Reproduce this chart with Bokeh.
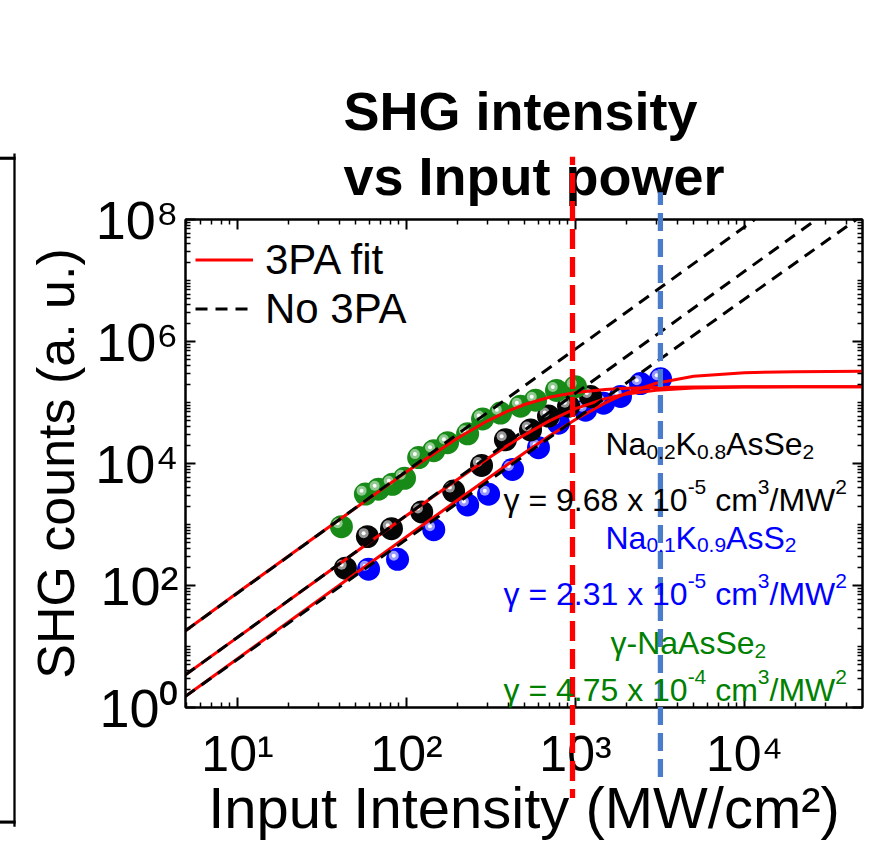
from bokeh.plotting import figure
from bokeh.models import (LogAxis, FixedTicker, Label, Title, Legend, LegendItem, Range1d)
from bokeh.embed import file_html
from bokeh.resources import INLINE

# ---------------- data ----------------
green_x = [41.2, 57.1, 68.2, 82.6, 97.3, 118, 145, 175, 230, 282, 360, 473, 580, 772, 1000]
green_y = [920, 3150, 3800, 4570, 5730, 12500, 16200, 21900, 30700, 53700, 67000, 87000, 109000, 158000, 182000]
black_x = [43.5, 58.7, 81.5, 123, 190, 278, 385, 542, 692, 910, 1228]
black_y = [192, 633, 853, 1610, 3530, 9290, 24500, 35500, 60000, 87000, 126000]
blue_x = [59.6, 88.5, 145, 230, 306, 424, 604, 793, 1146, 1465, 1846, 2425, 3184]
blue_y = [185, 269, 822, 2090, 3140, 7980, 18200, 45900, 74800, 97300, 126000, 204000, 245000]

fit_x = [4.9, 10, 30, 100, 200, 300, 400, 500, 700, 1000, 1500, 2000, 3000, 5000, 10000, 20000, 50000]
fit_green = [18, 76, 681, 7290, 26000, 49640, 72700, 92680, 121800, 146000, 163600, 170800, 176300, 179200, 180500, 181000, 181000]
fit_black = [3.4, 14.1, 127, 1400, 5470, 11860, 20070, 29520, 50070, 79400, 115600, 137600, 159100, 173000, 179600, 181350, 181800]
fit_blue = [1.51, 6.3, 56.7, 629, 2500, 5572, 9780, 15020, 28190, 52760, 98680, 141900, 206500, 269200, 308800, 320600, 324000]

no3pa_green_x = [4.9, 11500]
no3pa_green_y = [18, 1.0e8]
no3pa_black_x = [4.9, 26600]
no3pa_black_y = [3.4, 1.0e8]
no3pa_blue_x = [4.9, 46000]
no3pa_blue_y = [1.51, 1.0e8]

red_marker_x = 960
blue_marker_x = 3180

x_major = [10, 100, 1000, 10000]
x_labels = {10: "10\u00b9", 100: "10\u00b2", 1000: "10\u00b3", 10000: "10\u2074"}
y_major = [1, 100, 1e4, 1e6, 1e8]
y_labels = {1: "10\u2070", 100: "10\u00b2", 1e4: "10\u2074", 1e6: "10\u2076", 1e8: "10\u2078"}
y_odd = [10, 1e3, 1e5, 1e7]

# ---------------- layout helpers (reference pixel -> data) ----------------
def dx(X):
    return 10 ** (1 + (X - 237) / 169.0)

def dy(Y):
    return 10 ** ((713 - Y) / 61.75)

x_minor = [k * 10 ** d for d in range(0, 5) for k in range(2, 10) if 4.9 < k * 10 ** d < 50000]
y_minor = [k * 10 ** d for d in range(0, 8) for k in range(2, 10)]

FONT = "Liberation Sans"

p = figure(width=869, height=842, x_axis_type="log", y_axis_type="log",
           x_range=Range1d(dx(185), dx(862)), y_range=Range1d(1, 1e8),
           output_backend="svg", toolbar_location=None,
           min_border_left=185, min_border_right=7, min_border_top=219, min_border_bottom=129)
p.grid.visible = False
p.outline_line_color = "black"
p.outline_line_width = 2
p.background_fill_color = "white"
p.border_fill_color = "white"

def style_axis(ax, ticks, minors):
    ax.ticker = FixedTicker(ticks=ticks, minor_ticks=minors)
    ax.major_tick_in = 10
    ax.major_tick_out = 0
    ax.minor_tick_in = 5
    ax.minor_tick_out = 0
    ax.axis_line_width = 2
    ax.major_tick_line_width = 2
    ax.minor_tick_line_width = 1.5

def hide_labels(ax):
    ax.major_label_text_font_size = "1px"
    ax.major_label_text_alpha = 0
    ax.major_label_standoff = 0

xa = p.xaxis[0]
ya = p.yaxis[0]
style_axis(xa, x_major, x_minor)
style_axis(ya, y_major, y_minor + y_odd)
xa.major_label_overrides = x_labels
ya.major_label_overrides = y_labels
for ax in (xa, ya):
    ax.major_label_text_font = FONT
    ax.major_label_text_color = "black"
    ax.axis_label_text_font = FONT
    ax.axis_label_text_font_style = "normal"
    ax.axis_label_text_color = "black"
xa.major_label_text_font_size = "50px"
ya.major_label_text_font_size = "54px"
xa.major_label_standoff = 18
ya.major_label_standoff = 7

xa.axis_label = "Input Intensity (MW/cm\u00b2)"
xa.axis_label_text_font_size = "58px"
xa.axis_label_standoff = -10
ya.axis_label = "SHG counts (a. u.)"
ya.axis_label_text_font_size = "52px"
ya.axis_label_standoff = 7

top_ax = LogAxis()
style_axis(top_ax, x_major, x_minor)
hide_labels(top_ax)
p.add_layout(top_ax, "above")
right_ax = LogAxis()
style_axis(right_ax, y_major, y_minor + y_odd)
hide_labels(right_ax)
p.add_layout(right_ax, "right")

# ---------------- title ----------------
p.add_layout(Title(text="vs Input power", align="left", offset=158, standoff=28,
                   text_font=FONT, text_font_size="54px", text_font_style="bold",
                   text_color="black"), "above")
p.add_layout(Title(text="SHG intensity", align="left", offset=158, standoff=-22,
                   text_font=FONT, text_font_size="54px", text_font_style="bold",
                   text_color="black"), "above")

# ---------------- data marks ----------------
def balls(xs, ys, base, mid):
    p.scatter(xs, ys, size=23, fill_color=base, line_color=None)
    hx = [v * 0.95 for v in xs]
    hy = [v * 1.14 for v in ys]
    p.scatter(hx, hy, size=10, fill_color=mid, line_color=None, fill_alpha=0.9)
    p.scatter(hx, hy, size=4, fill_color="white", line_color=None)

balls(blue_x, blue_y, "#0000ff", "#a8a8ff")
balls(black_x, black_y, "#050505", "#a8a8a8")
balls(green_x, green_y, "#178a17", "#9ccf9c")

r_fit = p.line(fit_x, fit_green, line_color="#ff0000", line_width=3)
p.line(fit_x, fit_black, line_color="#ff0000", line_width=3)
p.line(fit_x, fit_blue, line_color="#ff0000", line_width=3)

r_dash = p.line(no3pa_green_x, no3pa_green_y, line_color="black", line_width=3, line_dash="12 8")
p.line(no3pa_black_x, no3pa_black_y, line_color="black", line_width=3, line_dash="12 8")
p.line(no3pa_blue_x, no3pa_blue_y, line_color="black", line_width=3, line_dash="12 8")

legend = Legend(items=[LegendItem(label="3PA fit", renderers=[r_fit]),
                       LegendItem(label="No 3PA", renderers=[r_dash])],
                location=(10, 374), padding=0, margin=0, spacing=0,
                glyph_width=58, glyph_height=49, label_height=49,
                label_standoff=12, label_text_font=FONT, label_text_font_size="42px",
                label_text_color="black",
                border_line_color=None, background_fill_alpha=0)
p.add_layout(legend)

# ---------------- text annotations ----------------
WID = {"N": .722, "a": .556, "K": .667, "A": .667, "s": .5, "S": .667, "e": .556,
       ".": .278, " ": .278, "=": .584, "x": .5, "c": .5, "m": .833, "/": .278,
       "M": .833, "W": .944, "-": .333, "\u03b3": .5}

def lab(X, Y, text, color="black", size=32):
    p.add_layout(Label(x=dx(X), y=dy(Y), text=text, text_color=color, text_font=FONT,
                       text_font_size=f"{size}px", text_align="left",
                       text_baseline="alphabetic"))

def rich(X, Y, parts, color):
    for text, kind in parts:
        size = 32 if kind == "n" else 21
        shift = 0 if kind == "n" else (8 if kind == "sub" else -13)
        lead = len(text) - len(text.lstrip(" "))
        X += lead * WID[" "] * size
        body = text.strip(" ")
        lab(X, Y + shift, body, color, size)
        X += sum(WID.get(ch, .556) for ch in body) * size

rich(605, 446, [("Na", "n"), ("0.2", "sub"), ("K", "n"), ("0.8", "sub"), ("AsSe", "n"), ("2", "sub")], "black")
rich(503, 503, [("\u03b3 = 9.68 x 10", "n"), ("-5", "sup"), (" cm", "n"), ("3", "sup"), ("/MW", "n"), ("2", "sup")], "black")
rich(605, 541, [("Na", "n"), ("0.1", "sub"), ("K", "n"), ("0.9", "sub"), ("AsS", "n"), ("2", "sub")], "#0000ff")
rich(503, 598, [("\u03b3 = 2.31 x 10", "n"), ("-5", "sup"), (" cm", "n"), ("3", "sup"), ("/MW", "n"), ("2", "sup")], "#0000ff")
rich(610, 648, [("\u03b3-NaAsSe", "n"), ("2", "sub")], "#008000")
rich(503, 695, [("\u03b3 = 4.75 x 10", "n"), ("-4", "sup"), (" cm", "n"), ("3", "sup"), ("/MW", "n"), ("2", "sup")], "#008000")

# ---------------- vertical threshold markers (unclipped, dashed via hatch) ----------------
def marker(xval, Y0, Y1, color, dash, gap, width):
    h = int(round((Y1 - Y0) / 2.0))
    p.add_layout(Label(x=xval, y=dy((Y0 + Y1) / 2.0), text=" ", text_font_size="1px",
                       text_align="center", text_baseline="middle",
                       background_fill_color=None,
                       background_hatch_pattern="horizontal_line",
                       background_hatch_color=color,
                       background_hatch_scale=dash + gap,
                       background_hatch_weight=dash,
                       padding=dict(top=h, bottom=h, left=width // 2, right=width - width // 2)),
                 "left")

marker(red_marker_x, 160, 800, "#ff0000", 20, 8, 5)
marker(blue_marker_x, 195, 780, "#4a7cc9", 18, 8, 5)

# left framing box (partially off-canvas)
def bar(Xc, Yc, half_w, half_h, side):
    p.add_layout(Label(x=dx(Xc), y=dy(Yc), text=" ", text_font_size="1px",
                       text_align="center", text_baseline="middle",
                       background_fill_color="black",
                       padding=dict(top=half_h, bottom=half_h, left=half_w, right=half_w)),
                 side)

bar(14, 493, 1, 336, "left")
bar(7, 157, 8, 1, "above")
bar(7, 829, 8, 1, "above")

open("out.html", "w").write(file_html(p, INLINE))
